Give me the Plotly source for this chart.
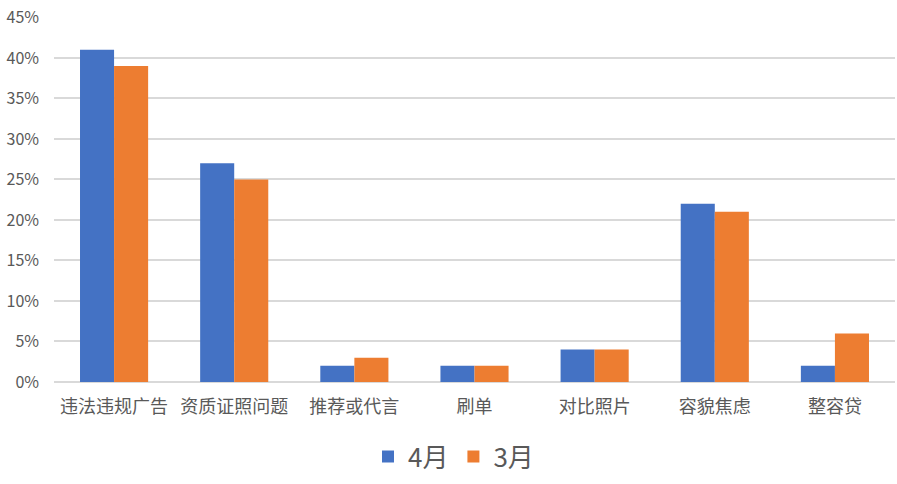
import plotly.graph_objects as go

categories = ["违法违规广告", "资质证照问题", "推荐或代言", "刷单", "对比照片", "容貌焦虑", "整容贷"]
april = [41, 27, 2, 2, 4, 22, 2]
march = [39, 25, 3, 2, 4, 21, 6]
y_ticks = [0, 5, 10, 15, 20, 25, 30, 35, 40, 45]

font_family = "Noto Sans CJK SC, Noto Sans, sans-serif"
gray = "#595959"

fig = go.Figure()
fig.add_trace(go.Bar(name="4月", x=categories, y=april, marker_color="#4472C4",
                     marker_line_width=0))
fig.add_trace(go.Bar(name="3月", x=categories, y=march, marker_color="#ED7D31",
                     marker_line_width=0))

fig.update_layout(
    width=897, height=484,
    margin=dict(l=54, r=2, t=17, b=102),
    barmode="group", bargap=0.433, bargroupgap=0,
    plot_bgcolor="white", paper_bgcolor="white",
    font=dict(family=font_family, color=gray),
    legend=dict(orientation="h", x=0.475, xanchor="center", y=-0.14, yanchor="top",
                font=dict(size=26, color=gray), itemwidth=30, traceorder="normal"),
    xaxis=dict(showline=False, ticks="", tickfont=dict(size=18, color=gray),
               automargin=False, ticklabelstandoff=12),
    yaxis=dict(range=[0, 45.05], tickvals=y_ticks, ticktext=[f"{v}%" for v in y_ticks],
               showgrid=True, gridcolor="#d9d9d9", gridwidth=1.5,
               zeroline=True, zerolinecolor="#d9d9d9", zerolinewidth=1.5,
               tickfont=dict(size=16, color=gray), ticklabelstandoff=14,
               automargin=False),
)

fig.write_html(
    "out.html",
    config={"displayModeBar": False},
    post_script="document.body.style.margin='0';document.body.style.overflow='hidden';",
)
